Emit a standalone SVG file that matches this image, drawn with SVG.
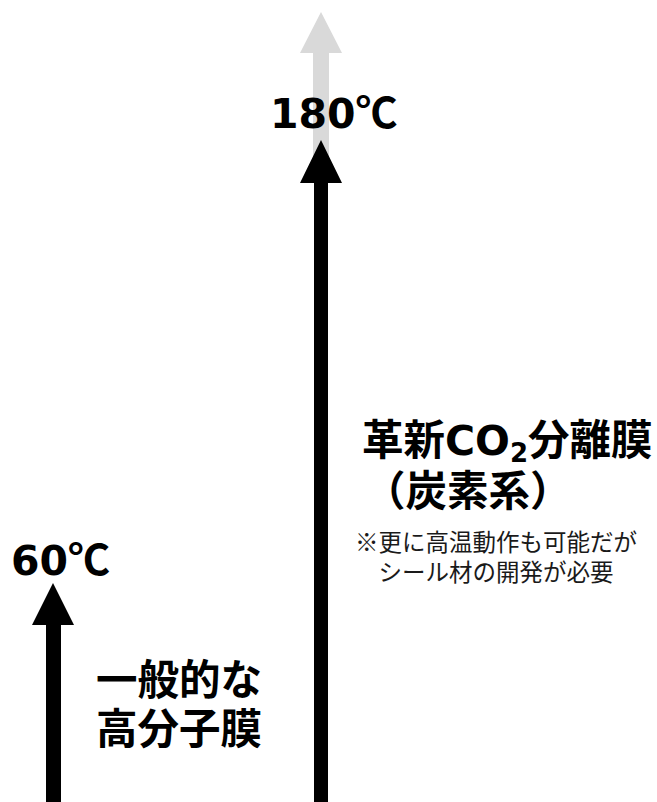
<svg xmlns="http://www.w3.org/2000/svg" width="657" height="802" viewBox="0 0 657 802">
<style>
.t{font-family:"Noto Sans CJK JP","Noto Sans",sans-serif;fill:#000}
.lat{font-family:"DejaVu Sans","Noto Sans CJK JP",sans-serif}
.b{font-weight:700}
.big{font-size:42px}
.lab{font-size:41.5px}
.note{font-size:23.5px;font-weight:400;fill:#1a1a1a}
</style>
<rect width="657" height="802" fill="#fff"/>
<g id="connectors">
<polygon id="arrow-future" fill="#d9d9d9" points="321,12 342,53 329,53 329,160 313,160 313,53 300,53"/>
<polygon id="arrow-carbon" fill="#000" points="321,140 342,183 328,183 328,802 314,802 314,183 300,183"/>
<polygon id="arrow-polymer" fill="#000" points="53,583 74,625 61,625 61,802 46,802 46,625 32,625"/>
</g>
<g id="label-180">
<text class="t b big" x="270" y="128"><tspan class="lat" font-size="41">180</tspan>℃</text>
</g>
<g id="label-60">
<text class="t b big" x="11" y="575"><tspan class="lat" font-size="41">60</tspan>℃</text>
</g>
<g id="node-polymer">
<text class="t b lab" x="96" y="695">一般的な</text>
<text class="t b lab" x="96" y="744">高分子膜</text>
</g>
<g id="node-carbon">
<text class="t b lab" x="362" y="455">革新<tspan class="lat" font-size="41">CO</tspan><tspan class="lat" font-size="26" dy="7">2</tspan><tspan dy="-7">分離膜</tspan></text>
<text class="t b lab" x="364" y="506">（炭素系）</text>
</g>
<g id="note">
<text class="t note" x="355" y="551">※更に高温動作も可能だが</text>
<text class="t note" x="355" y="581">　シール材の開発が必要</text>
</g>
</svg>
